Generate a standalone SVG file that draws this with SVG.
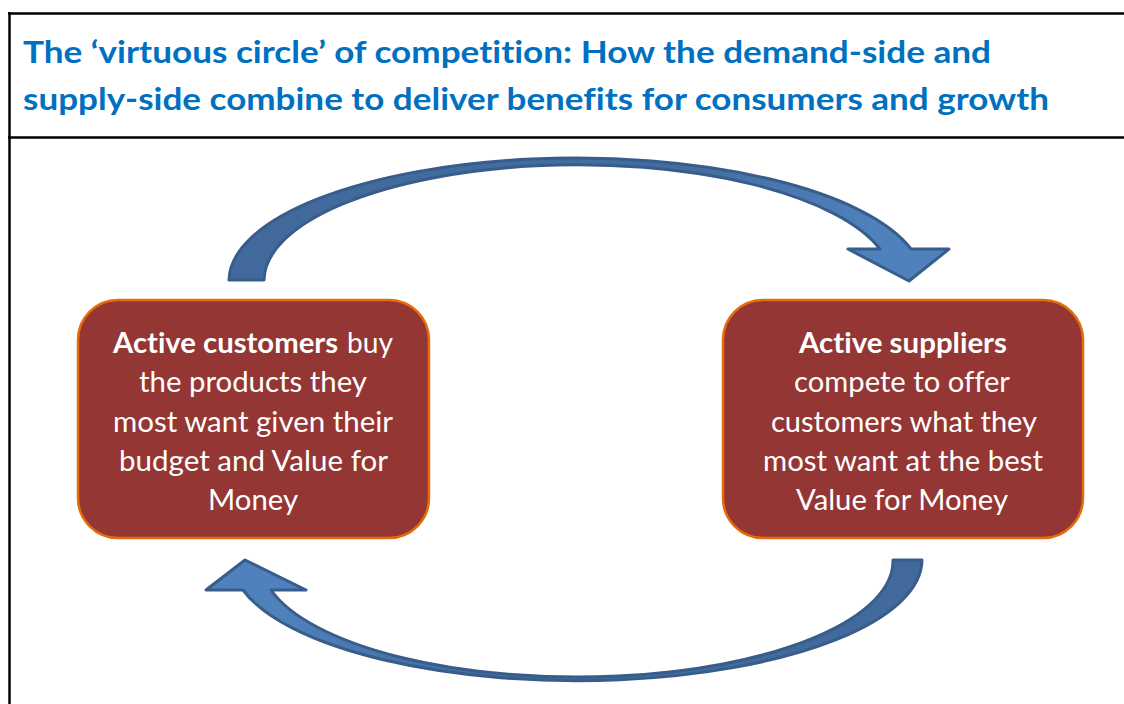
<svg xmlns="http://www.w3.org/2000/svg" width="1124" height="704" viewBox="0 0 1124 704">
<defs>
<linearGradient id="gTop" x1="229" y1="0" x2="949" y2="0" gradientUnits="userSpaceOnUse">
<stop offset="0" stop-color="#41699B"/><stop offset="0.65" stop-color="#446EA2"/><stop offset="0.9" stop-color="#4F81BD"/><stop offset="1" stop-color="#4F81BD"/>
</linearGradient>
<linearGradient id="gBot" x1="922" y1="0" x2="206" y2="0" gradientUnits="userSpaceOnUse">
<stop offset="0" stop-color="#41699B"/><stop offset="0.65" stop-color="#446EA2"/><stop offset="0.9" stop-color="#4F81BD"/><stop offset="1" stop-color="#4F81BD"/>
</linearGradient>
</defs>
<style>
text{font-variant-ligatures:none}
.frame{stroke:#000;stroke-width:2.5;fill:none}
.title{font-family:Lato,"Liberation Sans",sans-serif;font-weight:bold;font-size:31px;fill:#0070C0}
.box{fill:#943634;stroke:#E46C0A;stroke-width:2.5}
.t{font-family:Lato,"Liberation Sans",sans-serif;font-size:28px;fill:#FFFFFF}
.b{font-weight:bold}
.arrow{stroke:#385D8A;stroke-width:3;stroke-linejoin:round}
</style>
<rect width="1124" height="704" fill="#FFFFFF"/>
<g id="frame">
<line class="frame" x1="9.5" y1="12" x2="9.5" y2="704"/>
<line class="frame" x1="8" y1="13.5" x2="1124" y2="13.5"/>
<line class="frame" x1="8" y1="137.5" x2="1124" y2="137.5"/>
</g>
<g id="title">
<text class="title" x="23" y="63" textLength="968" lengthAdjust="spacingAndGlyphs">The ‘virtuous circle’ of competition: How the demand-side and</text>
<text class="title" x="23" y="110" textLength="1026" lengthAdjust="spacingAndGlyphs">supply-side combine to deliver benefits for consumers and growth</text>
</g>
<g id="connectors">
<path class="arrow" fill="url(#gTop)" d="M229,280 A347,123 0 0 1 911,249 L949,249 L909,281 L848,249 L880,249 A314,116 0 0 0 264,280 Z"/>
<path class="arrow" fill="url(#gBot)" d="M922,560 A345,121 0 0 1 243,590 L206,590 L245,560 L306,590 L271,590 A316,116 0 0 0 893,560 Z"/>
</g>
<g id="customers">
<rect class="box" x="78" y="300" width="351" height="238" rx="40" ry="40"/>
<text class="t b" x="113" y="353" textLength="225" lengthAdjust="spacingAndGlyphs">Active customers</text>
<text class="t" x="347" y="353" textLength="46" lengthAdjust="spacingAndGlyphs">buy</text>
<text class="t" x="139" y="392" textLength="228" lengthAdjust="spacingAndGlyphs">the products they</text>
<text class="t" x="113" y="432" textLength="280" lengthAdjust="spacingAndGlyphs">most want given their</text>
<text class="t" x="119" y="471" textLength="269" lengthAdjust="spacingAndGlyphs">budget and Value for</text>
<text class="t" x="208" y="510" textLength="90" lengthAdjust="spacingAndGlyphs">Money</text>
</g>
<g id="suppliers">
<rect class="box" x="723" y="300" width="360" height="238" rx="40" ry="40"/>
<text class="t b" x="799" y="353" textLength="208" lengthAdjust="spacingAndGlyphs">Active suppliers</text>
<text class="t" x="794" y="392" textLength="216" lengthAdjust="spacingAndGlyphs">compete to offer</text>
<text class="t" x="771" y="432" textLength="266" lengthAdjust="spacingAndGlyphs">customers what they</text>
<text class="t" x="763" y="471" textLength="280" lengthAdjust="spacingAndGlyphs">most want at the best</text>
<text class="t" x="796" y="510" textLength="212" lengthAdjust="spacingAndGlyphs">Value for Money</text>
</g>
</svg>
